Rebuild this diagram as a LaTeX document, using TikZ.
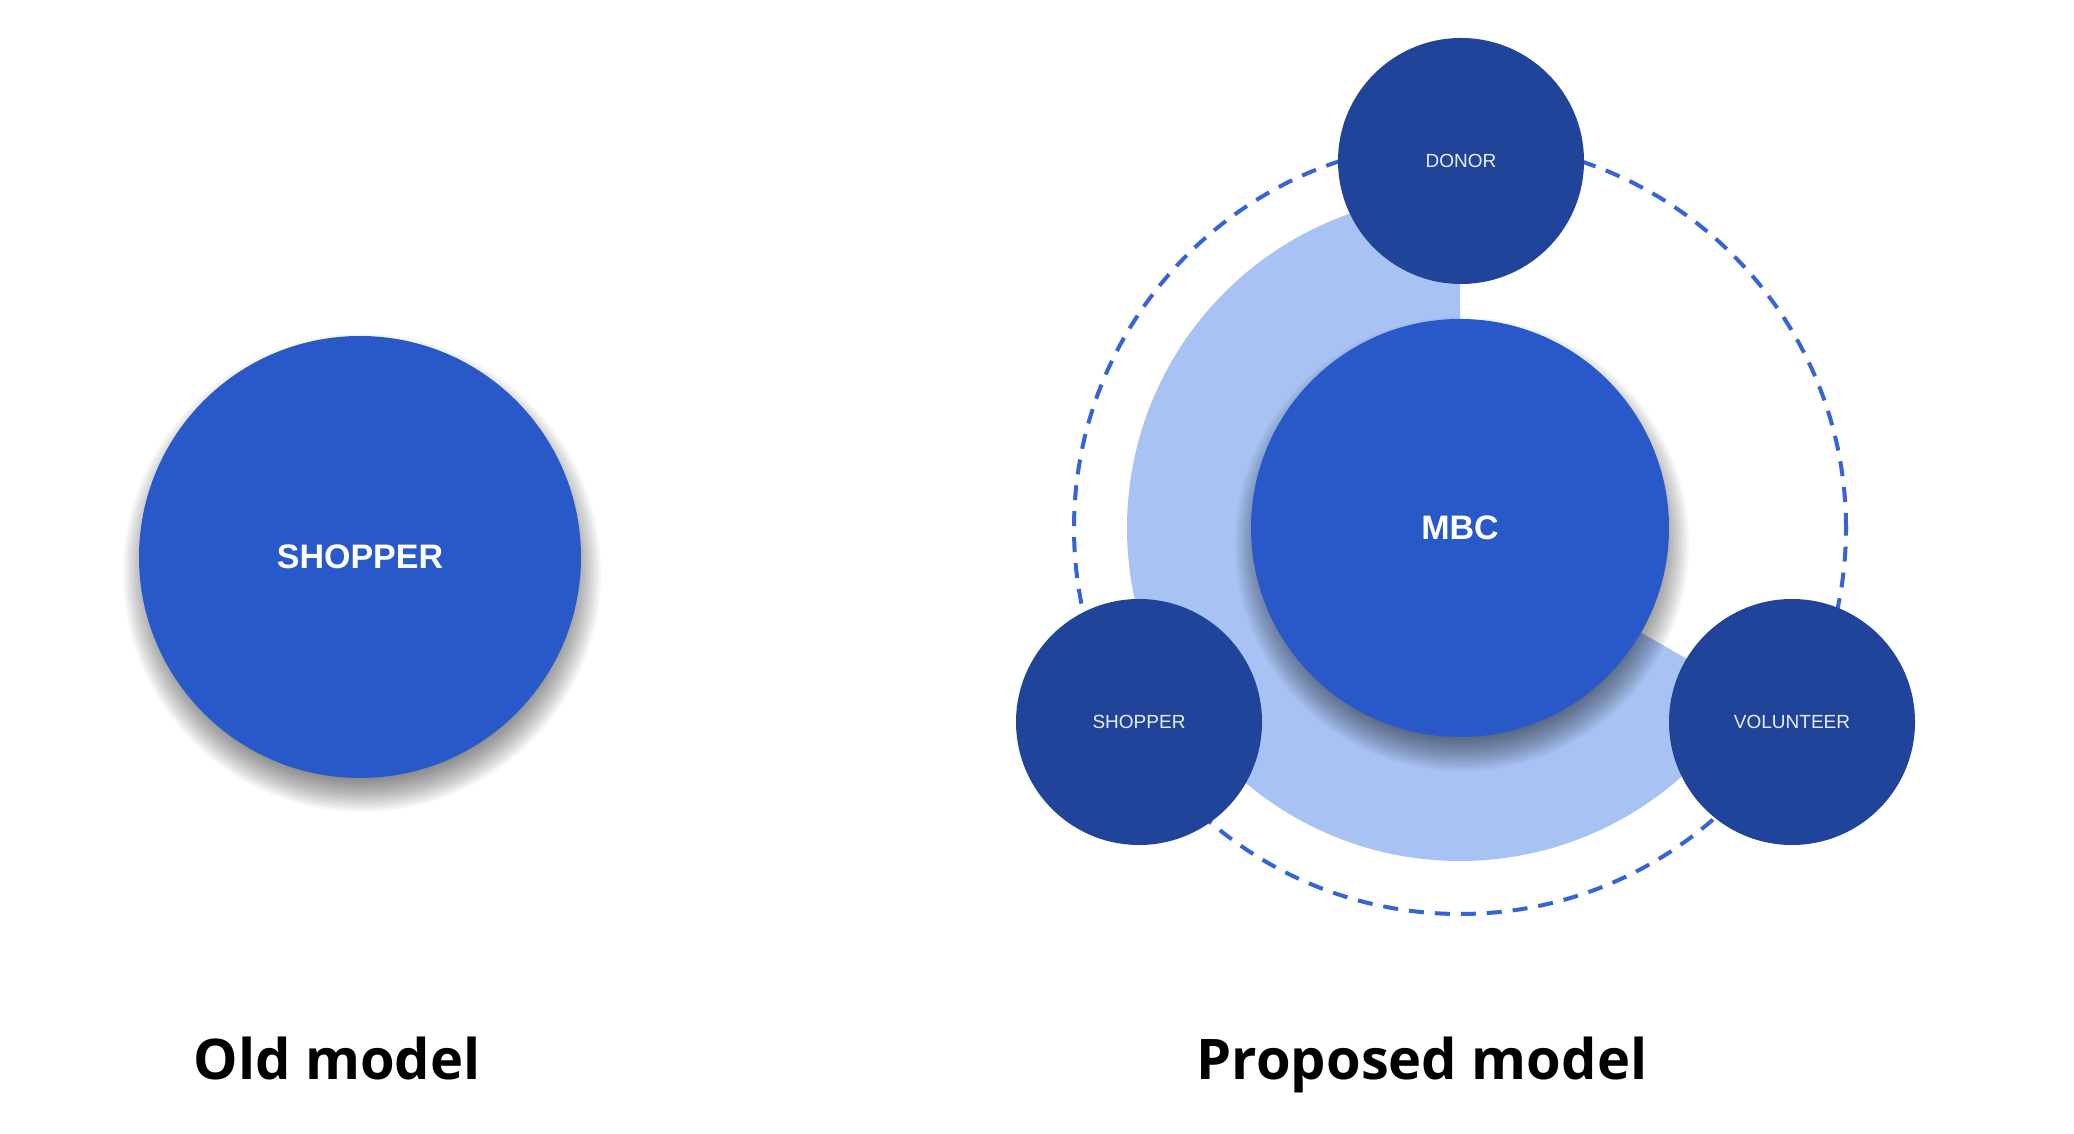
\documentclass[tikz,border=0pt]{standalone}
\usepackage{fontspec}
\setmainfont{Liberation Sans}
\newfontfamily\headfont{Open Sans}
\definecolor{midblue}{HTML}{2958C9}
\definecolor{darkblue}{HTML}{1F4499}
\definecolor{lightblue}{HTML}{A8C2F3}
\definecolor{dashblue}{HTML}{3563D8}
\definecolor{labelwhite}{HTML}{E9EDF6}
\begin{document}
\begin{tikzpicture}[x=1pt,y=1pt,
  bigdisc/.style={circle, inner sep=0pt, fill=midblue, text=white,
    font=\bfseries\fontsize{34}{40}\selectfont},
  roledisc/.style={circle, inner sep=0pt, minimum size=246pt, fill=darkblue,
    text=labelwhite, font=\fontsize{19}{22}\selectfont},
  heading/.style={font=\headfont\bfseries\fontsize{56}{66}\selectfont,
    anchor=base, inner sep=0pt},
  orbit/.style={draw=dashblue, line width=4pt, dash pattern=on 15pt off 11pt},
  shadowlayer/.style={fill=black, opacity=0.03}
]
\useasboundingbox[fill=white] (0,0) rectangle (2074,1134);

% Old model
\coordinate (oc) at (360,577);
\foreach \k in {0,...,19}
  \fill[shadowlayer] ([shift={(2,-16)}]oc) circle[radius=221+18-2*\k];
\node[bigdisc, minimum size=442pt] (oldshopper) at (oc) {SHOPPER};
\node[heading] (oldtitle) at (337,54) {Old model};

% Proposed model
\coordinate (C) at (1460,606);
\draw[orbit] (C) circle[radius=386];
\fill[lightblue] (C) -- ++(90:333) arc[start angle=90, end angle=330, radius=333] -- cycle;
\foreach \k in {0,...,19}
  \fill[shadowlayer] ([shift={(2,-16)}]C) circle[radius=209+18-2*\k];
\node[bigdisc, minimum size=418pt] (mbc) at (C) {MBC};
\node[roledisc] (donor) at (1461,973) {DONOR};
\node[roledisc] (shopper) at (1139,412) {SHOPPER};
\node[roledisc] (volunteer) at (1792,412) {VOLUNTEER};
\node[heading] (newtitle) at (1422,54) {Proposed model};
\end{tikzpicture}
\end{document}
